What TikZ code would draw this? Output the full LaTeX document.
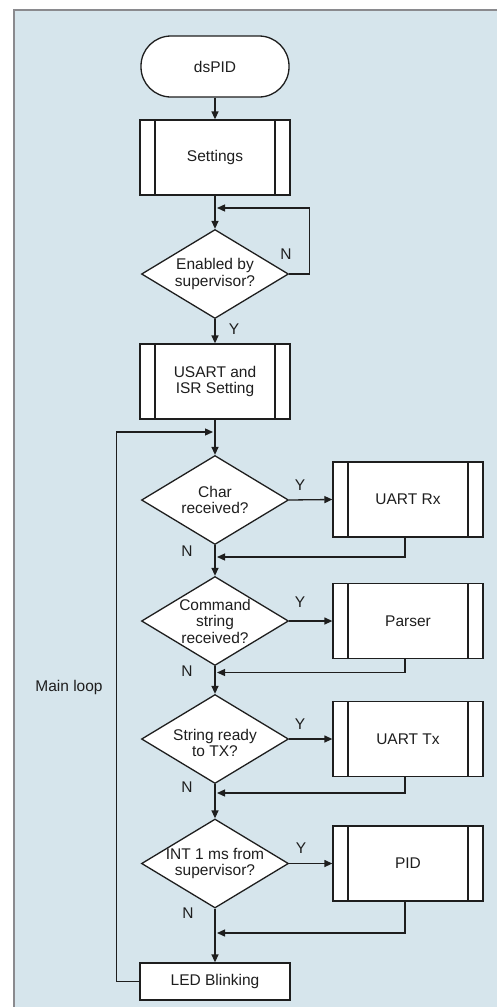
\documentclass[tikz,border=0pt]{standalone}
\usepackage{fontspec}
\setmainfont{Liberation Sans}
\usetikzlibrary{shapes.geometric,arrows.meta}
\definecolor{bgblue}{RGB}{214,229,236}
\definecolor{framegray}{RGB}{138,138,142}
\definecolor{ink}{RGB}{30,30,30}
\tikzset{
  every node/.style={font=\fontsize{15.5}{16.5}\selectfont, text=ink},
  ln/.style={draw=ink, line width=1.3pt},
  arr/.style={ln, -{Triangle[length=8pt,width=7pt]}},
  term/.style={ln, fill=white, rounded corners=30pt, minimum width=148pt, minimum height=61pt, inner sep=0pt},
  subbox/.style={ln, fill=white, minimum width=150pt, minimum height=75pt, inner sep=0pt, align=center,
    path picture={
      \draw[ink, line width=1.3pt] ([xshift=15pt]path picture bounding box.north west) -- ([xshift=15pt]path picture bounding box.south west);
      \draw[ink, line width=1.3pt] ([xshift=-15pt]path picture bounding box.north east) -- ([xshift=-15pt]path picture bounding box.south east);
    }},
  plainbox/.style={ln, fill=white, minimum width=150pt, minimum height=37pt, inner sep=0pt},
  dia/.style={ln, fill=white, diamond, minimum width=147pt, minimum height=89pt, inner sep=0pt},
  dtext/.style={align=center, inner sep=0pt},
  lbl/.style={inner sep=0pt},
}
\begin{document}
\begin{tikzpicture}[x=1pt,y=-1pt]
\useasboundingbox (0,0) rectangle (497,1007);
\fill[bgblue] (14,10) rectangle (497,1007);
\draw[framegray, line width=2pt] (14,1007) -- (14,10) -- (497,10);

% nodes
\node[term] (start) at (215,66.5) {dsPID};
\node[subbox] (set) at (215,157.5) {Settings};
\node[dia] (d1) at (215,274) {};
\node[dtext] (t1) at (d1) {Enabled by\\supervisor?};
\node[subbox] (usart) at (215,381.5) {USART and\\ISR Setting};
\node[dia] (d2) at (215,500) {};
\node[dtext] (t2) at (d2) {Char\\received?};
\node[subbox] (rx) at (408,499.5) {UART Rx};
\node[dia] (d3) at (215,621) {};
\node[dtext] (t3) at (d3) {Command\\string\\received?};
\node[subbox] (parser) at (408,621) {Parser};
\node[dia] (d4) at (215,739) {};
\node[dtext] (t4) at ([yshift=-4]d4.center) {String ready\\to TX?};
\node[subbox] (tx) at (408,739) {UART Tx};
\node[dia] (d5) at (215,863.5) {};
\node[dtext] (t5) at (d5) {INT 1 ms from\\supervisor?};
\node[subbox] (pid) at (408,863.5) {PID};
\node[plainbox] (led) at (215,981.5) {LED Blinking};

\coordinate (j1) at (215,208);
\coordinate (j2) at (215,432);
\coordinate (j3) at (215,557);
\coordinate (j4) at (215,672.5);
\coordinate (j5) at (215,793);
\coordinate (j6) at (215,933);

% connectors
\draw[arr] (start.south) -- (set.north);
\draw[arr] (set.south) -- (d1.north);
\draw[arr] (d1.east) -- ++(20,0) |- ([xshift=2pt]j1);
\draw[arr] (d1.south) -- (usart.north);
\draw[arr] (usart.south) -- (d2.north);
\draw[arr] (led.west) -- ++(-23,0) |- ([xshift=-2pt]j2);

\draw[arr] (d2.east) -- (rx.west);
\draw[arr] ([xshift=-3pt]rx.south) |- ([xshift=2pt]j3);
\draw[arr] (d2.south) -- (d3.north);

\draw[arr] (d3.east) -- (parser.west);
\draw[arr] ([xshift=-3pt]parser.south) |- ([xshift=2pt]j4);
\draw[arr] (d3.south) -- (d4.north);

\draw[arr] (d4.east) -- (tx.west);
\draw[arr] ([xshift=-3pt]tx.south) |- ([xshift=2pt]j5);
\draw[arr] (d4.south) -- (d5.north);

\draw[arr] (d5.east) -- (pid.west);
\draw[arr] ([xshift=-3pt]pid.south) |- ([xshift=2pt]j6);
\draw[arr] (d5.south) -- (led.north);

% labels
\node[lbl] (n1) at (286,254) {N};
\node[lbl] (y1) at (234,329) {Y};
\node[lbl] (y2) at (300,485) {Y};
\node[lbl] (n2) at (187,551) {N};
\node[lbl] (y3) at (300,602) {Y};
\node[lbl] (n3) at (187,671) {N};
\node[lbl] (y4) at (300,724) {Y};
\node[lbl] (n4) at (187,787) {N};
\node[lbl] (y5) at (301,848) {Y};
\node[lbl] (n5) at (188,913) {N};
\node[lbl] (ml) at (69,687) {Main loop};
\end{tikzpicture}
\end{document}
